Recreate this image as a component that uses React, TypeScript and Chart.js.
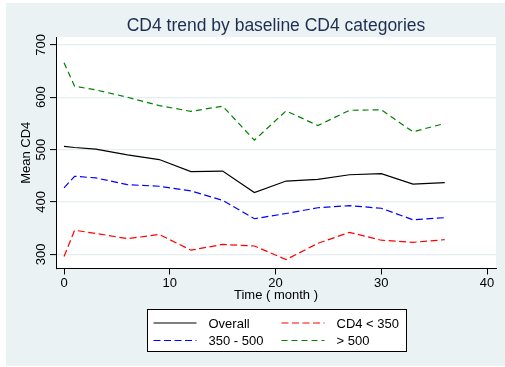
import React, { useEffect, useRef } from 'react';
import { Chart, registerables } from 'chart.js';

Chart.register(...registerables);

const months = [0, 1, 3, 6, 9, 12, 15, 18, 21, 24, 27, 30, 33, 36];
const overall = [506, 504, 501, 490, 481, 458, 459, 418, 440, 443, 452, 454, 434, 437];
const cd4Below350 = [296, 346, 340, 330, 338, 308, 319, 316, 290, 321, 342, 327, 323, 328];
const cd4From350To500 = [427, 449, 446, 433, 430, 421, 403, 368, 378, 389, 393, 388, 366, 370];
const cd4Above500 = [666, 621, 614, 600, 584, 573, 583, 518, 574, 546, 575, 576, 534, 550];

const seriesLabels = ['Overall', 'CD4 < 350', '350 - 500', '> 500'];
const xTicks = [0, 10, 20, 30, 40];
const yTicks = [300, 400, 500, 600, 700];

const FONT = '"Liberation Sans", Arial, Helvetica, sans-serif';
const PANEL = 'rgb(234,242,243)';
const GRID = 'rgb(228,237,239)';
const TITLE_COLOR = 'rgb(30,45,80)';

const styles = [
  { color: '#000000', dash: [] as number[] },
  { color: '#ff0000', dash: [7, 3.5] },
  { color: '#0000ff', dash: [7, 3.5] },
  { color: '#008000', dash: [6, 4] },
];

export default function App() {
  const ref = useRef<HTMLCanvasElement>(null);

  useEffect(() => {
    const canvas = ref.current;
    if (!canvas) return;
    const values = [overall, cd4Below350, cd4From350To500, cd4Above500];

    const decor = {
      id: 'stataDecor',
      beforeDraw(chart: any) {
        const { ctx, chartArea } = chart;
        ctx.save();
        ctx.fillStyle = '#ffffff';
        ctx.fillRect(chartArea.left, chartArea.top, chartArea.right - chartArea.left, chartArea.bottom - chartArea.top);
        ctx.restore();
      },
      afterDraw(chart: any) {
        const { ctx, chartArea } = chart;
        const ys = chart.scales.y;
        // rotated y tick labels
        ctx.save();
        ctx.font = `13px ${FONT}`;
        ctx.fillStyle = '#000000';
        ctx.textAlign = 'center';
        ctx.textBaseline = 'alphabetic';
        for (const v of yTicks) {
          const py = ys.getPixelForValue(v);
          ctx.save();
          ctx.translate(ys.right - 11, py);
          ctx.rotate(-Math.PI / 2);
          ctx.fillText(String(v), 0, 0);
          ctx.restore();
        }
        ctx.restore();

        // legend
        const boxW = 259;
        const boxH = 42;
        const cx = (chartArea.left + chartArea.right) / 2;
        const left = Math.round(cx - boxW / 2) + 0.5;
        const top = Math.round(chartArea.bottom + 40) + 0.5;
        ctx.save();
        ctx.fillStyle = '#ffffff';
        ctx.fillRect(left, top, boxW, boxH);
        ctx.strokeStyle = '#000000';
        ctx.lineWidth = 1;
        ctx.strokeRect(left, top, boxW, boxH);
        ctx.font = `13px ${FONT}`;
        ctx.textAlign = 'left';
        ctx.textBaseline = 'middle';
        const colX = [6, 134];
        const rowY = [13.5, 31];
        chart.data.datasets.forEach((ds: any, i: number) => {
          const col = i % 2;
          const row = Math.floor(i / 2);
          const x0 = left + colX[col];
          const y0 = top + rowY[row];
          ctx.beginPath();
          ctx.setLineDash(ds.borderDash || []);
          ctx.strokeStyle = ds.borderColor;
          ctx.lineWidth = ds.borderWidth;
          ctx.moveTo(x0, y0);
          ctx.lineTo(x0 + 43, y0);
          ctx.stroke();
          ctx.setLineDash([]);
          ctx.fillStyle = '#000000';
          ctx.fillText(ds.label, x0 + 55, y0 + 1);
        });
        ctx.restore();
      },
    };

    const chart = new Chart(canvas, {
      type: 'line',
      data: {
        datasets: seriesLabels.map((label, i) => ({
          label,
          data: months.map((m, j) => ({ x: m, y: values[i][j] })),
          borderColor: styles[i].color,
          backgroundColor: styles[i].color,
          borderDash: styles[i].dash,
          borderWidth: 1.2,
          pointRadius: 0,
          tension: 0,
          fill: false,
        })),
      },
      options: {
        responsive: false,
        animation: false,
        devicePixelRatio: 1,
        layout: { padding: { left: 0, right: 9, top: 0, bottom: 61.5 } },
        plugins: {
          legend: { display: false },
          tooltip: { enabled: false },
          title: {
            display: true,
            text: 'CD4 trend by baseline CD4 categories',
            color: TITLE_COLOR,
            font: { family: FONT, size: 17.5, weight: 'normal', lineHeight: 1.2 },
            padding: { top: 12.5, bottom: 0.5 },
            fullSize: false,
          } as any,
        },
        scales: {
          x: {
            type: 'linear',
            min: -0.76,
            max: 40.85,
            afterBuildTicks: (s: any) => {
              s.ticks = xTicks.map((v) => ({ value: v }));
            },
            afterFit: (s: any) => {
              s.height = 36;
            },
            ticks: {
              color: '#000000',
              font: { family: FONT, size: 13 },
              padding: 1,
              maxRotation: 0,
              minRotation: 0,
            },
            grid: {
              display: true,
              drawOnChartArea: false,
              drawTicks: true,
              tickLength: 6,
              tickColor: '#000000',
              tickWidth: 1,
            },
            border: { display: true, color: '#000000', width: 1 },
            title: {
              display: true,
              text: 'Time ( month )',
              color: '#000000',
              font: { family: FONT, size: 13 },
              padding: { top: 0, bottom: 1 },
            },
          },
          y: {
            type: 'linear',
            min: 273,
            max: 715,
            afterBuildTicks: (s: any) => {
              s.ticks = yTicks.map((v) => ({ value: v }));
            },
            afterFit: (s: any) => {
              s.width = 50;
            },
            ticks: { display: false },
            grid: {
              display: true,
              drawOnChartArea: true,
              drawTicks: true,
              tickLength: 6,
              color: GRID,
              lineWidth: 1.2,
              tickColor: '#000000',
              tickWidth: 1,
            },
            border: { display: true, color: '#000000', width: 1 },
            title: {
              display: true,
              text: 'Mean CD4',
              color: '#000000',
              font: { family: FONT, size: 13 },
              padding: { top: 13, bottom: 0 },
            },
          },
        },
      },
      plugins: [decor],
    });

    return () => {
      chart.destroy();
    };
  }, []);

  return (
    <div style={{ position: 'absolute', left: 6, top: 3, width: 499, height: 363, background: PANEL }}>
      <canvas ref={ref} width={499} height={363} style={{ display: 'block', width: 499, height: 363 }} />
    </div>
  );
}
